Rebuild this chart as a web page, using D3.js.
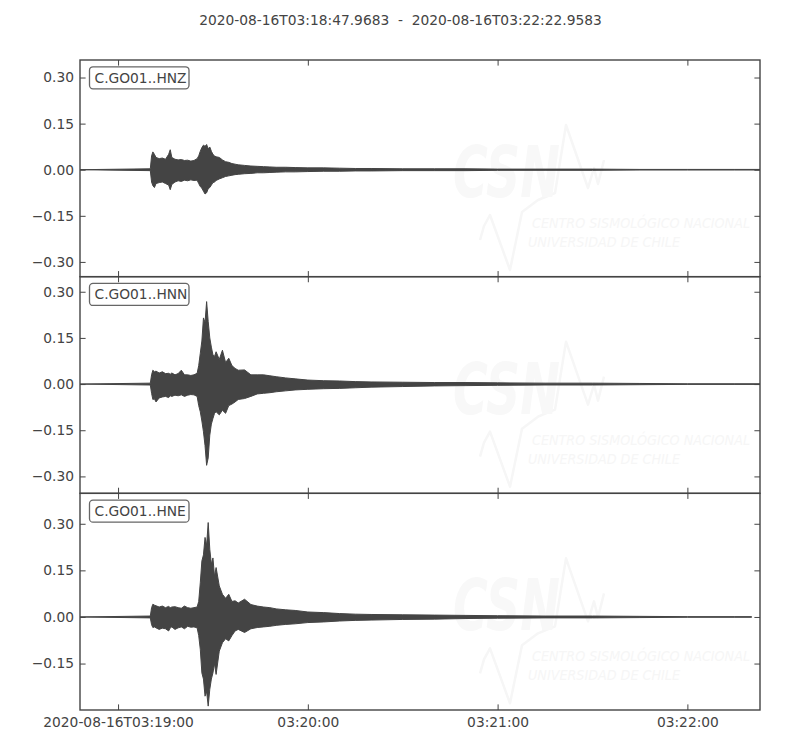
<!DOCTYPE html>
<html>
<head>
<meta charset="utf-8">
<script src="https://cdn.jsdelivr.net/npm/d3@7"></script>
<style>
  body { margin: 0; background: #fff; }
  svg { display: block; font-family: "DejaVu Sans", sans-serif; }
</style>
</head>
<body>
<div id="chart"></div>
<script>
// --- Data (amplitude envelopes, seconds after 03:19:00) ---
const traceIds = ["C.GO01..HNZ", "C.GO01..HNN", "C.GO01..HNE"];
const startTime = "2020-08-16T03:18:47.9683";
const endTime = "2020-08-16T03:22:22.9583";
const refTime = "2020-08-16T03:19:00";
const yLimits = [[-0.348, 0.357], [-0.355, 0.349], [-0.2995, 0.398]];
const yTickValues = [-0.30, -0.15, 0.00, 0.15, 0.30];
const traceEnds = [202.96, 202.96, 200.3];

const secs = [-12.04, 10.2, 10.6, 11, 11.5, 12, 13, 14, 15, 16, 16.5, 17, 18, 19, 20, 21, 22, 23, 24, 25,
  25.5, 26, 26.5, 27, 27.5, 28, 28.5, 29, 29.5, 30, 30.5, 31, 32, 33, 34, 35, 36, 37, 38, 40,
  42, 44, 46, 48, 50, 53, 56, 60, 65, 70, 75, 80, 90, 100, 110, 120, 135, 150, 165, 180, 195];

const upperZ = [0, 0.003, 0.045, 0.058, 0.05, 0.04, 0.036, 0.038, 0.034, 0.05, 0.065, 0.04, 0.034, 0.032, 0.033, 0.03, 0.031, 0.028, 0.03, 0.036,
  0.045, 0.06, 0.072, 0.08, 0.076, 0.082, 0.068, 0.074, 0.06, 0.05, 0.045, 0.042, 0.04, 0.032, 0.026, 0.024, 0.02, 0.018, 0.016, 0.014,
  0.012, 0.011, 0.01, 0.009, 0.008, 0.008, 0.007, 0.006, 0.006, 0.005, 0.004, 0.004, 0.003, 0.003, 0.003, 0.002, 0.002, 0.002, 0.001, 0.001, 0.001];
const lowerZ = [0, -0.003, -0.04, -0.052, -0.058, -0.045, -0.042, -0.04, -0.045, -0.05, -0.065, -0.048, -0.04, -0.036, -0.038, -0.034, -0.036, -0.033, -0.035, -0.034,
  -0.045, -0.055, -0.06, -0.07, -0.079, -0.075, -0.062, -0.058, -0.05, -0.042, -0.04, -0.035, -0.03, -0.026, -0.022, -0.02, -0.018, -0.016, -0.015, -0.013,
  -0.012, -0.01, -0.01, -0.009, -0.008, -0.007, -0.007, -0.006, -0.005, -0.005, -0.004, -0.004, -0.003, -0.003, -0.003, -0.002, -0.002, -0.002, -0.001, -0.001, -0.001];

const upperN = [0, 0.003, 0.03, 0.045, 0.04, 0.042, 0.036, 0.04, 0.034, 0.035, 0.032, 0.036, 0.03, 0.034, 0.045, 0.03, 0.03, 0.028, 0.03, 0.035,
  0.06, 0.1, 0.14, 0.215, 0.2, 0.268, 0.203, 0.15, 0.12, 0.095, 0.09, 0.105, 0.08, 0.11, 0.07, 0.084, 0.06, 0.051, 0.045, 0.046,
  0.03, 0.03, 0.03, 0.027, 0.024, 0.02, 0.017, 0.013, 0.011, 0.01, 0.008, 0.007, 0.006, 0.005, 0.005, 0.004, 0.003, 0.003, 0.002, 0.001, 0.001];
const lowerN = [0, -0.003, -0.03, -0.05, -0.048, -0.058, -0.045, -0.042, -0.04, -0.044, -0.038, -0.04, -0.036, -0.038, -0.035, -0.04, -0.036, -0.034, -0.035, -0.04,
  -0.07, -0.09, -0.12, -0.155, -0.2, -0.264, -0.24, -0.166, -0.13, -0.112, -0.095, -0.09, -0.1, -0.085, -0.095, -0.07, -0.065, -0.058, -0.05, -0.047,
  -0.04, -0.032, -0.03, -0.028, -0.025, -0.022, -0.019, -0.017, -0.015, -0.014, -0.012, -0.01, -0.008, -0.006, -0.005, -0.004, -0.003, -0.003, -0.002, -0.001, -0.001];

const upperE = [0, 0.003, 0.03, 0.041, 0.038, 0.036, 0.032, 0.035, 0.03, 0.034, 0.03, 0.032, 0.033, 0.03, 0.028, 0.035, 0.03, 0.028, 0.03, 0.032,
  0.05, 0.11, 0.18, 0.2, 0.256, 0.23, 0.304, 0.218, 0.17, 0.19, 0.13, 0.159, 0.1, 0.073, 0.06, 0.073, 0.05, 0.052, 0.045, 0.057,
  0.04, 0.035, 0.032, 0.03, 0.026, 0.023, 0.021, 0.016, 0.014, 0.011, 0.009, 0.008, 0.007, 0.006, 0.005, 0.004, 0.003, 0.003, 0.002, 0.001, 0.001];
const lowerE = [0, -0.003, -0.025, -0.034, -0.032, -0.035, -0.04, -0.036, -0.038, -0.045, -0.035, -0.032, -0.04, -0.035, -0.032, -0.038, -0.03, -0.033, -0.032, -0.035,
  -0.06, -0.104, -0.18, -0.2, -0.255, -0.24, -0.287, -0.233, -0.2, -0.18, -0.15, -0.185, -0.11, -0.083, -0.07, -0.077, -0.06, -0.045, -0.04, -0.05,
  -0.038, -0.034, -0.032, -0.03, -0.027, -0.024, -0.022, -0.018, -0.016, -0.013, -0.011, -0.01, -0.008, -0.007, -0.005, -0.004, -0.003, -0.003, -0.002, -0.001, -0.001];

const uppers = [upperZ, upperN, upperE];
const lowers = [lowerZ, lowerN, lowerE];

// --- Layout ---
const width = 800, height = 750;
const plotLeft = 80, plotRight = 760, plotTop = 60, plotBottom = 710;
const panelH = (plotBottom - plotTop) / traceIds.length;
const ink = "#444";
const fontSize = 13.8;
const tickLen = 5.6;

const parse = d3.utcParse("%Y-%m-%dT%H:%M:%S.%f");
const t0 = parse(startTime + "00");
const t1 = parse(endTime + "00");
const tRef = d3.utcParse("%Y-%m-%dT%H:%M:%S")(refTime);

const x = d3.scaleUtc().domain([t0, t1]).range([plotLeft, plotRight]);
const atSec = (s) => new Date(tRef.getTime() + s * 1000);
const xTicks = x.ticks(d3.utcMinute.every(1));
const fmtFirst = d3.utcFormat("%Y-%m-%dT%H:%M:%S");
const fmtRest = d3.utcFormat("%H:%M:%S");

const svg = d3.select("#chart").append("svg")
  .attr("width", width)
  .attr("height", height)
  .attr("viewBox", [0, 0, width, height]);

// title
svg.append("text")
  .attr("x", 400.5)
  .attr("y", 25)
  .attr("text-anchor", "middle")
  .attr("fill", ink)
  .style("font-size", fontSize + "px")
  .style("white-space", "pre")
  .attr("xml:space", "preserve")
  .text(`${startTime}  -  ${endTime}`);

const area = d3.area()
  .x((d) => x(atSec(d.t)))
  .y0((d) => d.y(d.lo))
  .y1((d) => d.y(d.hi));

traceIds.forEach((id, i) => {
  const y0 = plotTop + i * panelH;
  const y1 = y0 + panelH;
  const y = d3.scaleLinear().domain(yLimits[i]).range([y1, y0]);
  const isLast = i === traceIds.length - 1;
  const yTicks = yTickValues.filter((v) => v >= yLimits[i][0] && v <= yLimits[i][1]);

  const clipId = "clip" + i;
  svg.append("clipPath").attr("id", clipId)
    .append("rect").attr("x", plotLeft).attr("y", y0).attr("width", plotRight - plotLeft).attr("height", panelH);

  // faint CSN watermark (sits well inside the panel)
  const wm = svg.append("g").attr("transform", `translate(0,${y0})`).attr("pointer-events", "none");
  wm.append("polyline")
    .attr("points", "480,180 484,166 490,155 510,210 522,152 538,140 555,133 566,65 588,128 594,108 598,124 604,100")
    .attr("fill", "none")
    .attr("stroke", "#f6f6f6")
    .attr("stroke-width", 2.5)
    .attr("stroke-linejoin", "round");
  wm.append("text")
    .attr("x", 453).attr("y", 137)
    .attr("textLength", 107).attr("lengthAdjust", "spacingAndGlyphs")
    .style("font-size", "71px").style("font-style", "italic").style("font-weight", "bold")
    .attr("fill", "#f8f8f8")
    .text("CSN");
  wm.append("text")
    .attr("x", 532).attr("y", 168)
    .attr("textLength", 218).attr("lengthAdjust", "spacingAndGlyphs")
    .style("font-size", "14.5px").style("font-style", "italic")
    .attr("fill", "#f6f6f6")
    .text("CENTRO SISMOLÓGICO NACIONAL");
  wm.append("text")
    .attr("x", 528).attr("y", 187)
    .attr("textLength", 152).attr("lengthAdjust", "spacingAndGlyphs")
    .style("font-size", "14.5px").style("font-style", "italic")
    .attr("fill", "#f6f6f6")
    .text("UNIVERSIDAD DE CHILE");

  const g = svg.append("g").attr("clip-path", `url(#${clipId})`);

  // waveform envelope
  const pts = secs.map((s, j) => ({ t: s, hi: uppers[i][j], lo: lowers[i][j], y }));
  const last = pts[pts.length - 1];
  pts.push({ t: traceEnds[i], hi: last.hi, lo: last.lo, y });
  g.append("path")
    .datum(pts)
    .attr("d", area)
    .attr("fill", ink)
    .attr("stroke", ink)
    .attr("stroke-width", 1)
    .attr("stroke-linejoin", "round");

  // axes (ticks pointing inward on all four sides)
  const yFmt = d3.format(".2f");
  const ax = svg.append("g");

  const leftAxis = ax.append("g").attr("transform", `translate(${plotLeft},0)`)
    .call(d3.axisLeft(y).tickValues(yTicks)
      .tickFormat(yFmt).tickSizeInner(-tickLen).tickSizeOuter(0).tickPadding(6));
  const rightAxis = ax.append("g").attr("transform", `translate(${plotRight},0)`)
    .call(d3.axisRight(y).tickValues(yTicks)
      .tickFormat("").tickSizeInner(-tickLen).tickSizeOuter(0));
  const topAxis = ax.append("g").attr("transform", `translate(0,${y0})`)
    .call(d3.axisTop(x).tickValues(xTicks).tickFormat("").tickSizeInner(-tickLen).tickSizeOuter(0));
  const bottomAxis = ax.append("g").attr("transform", `translate(0,${y1})`)
    .call(d3.axisBottom(x).tickValues(xTicks)
      .tickFormat(isLast ? (d, k) => (k === 0 ? fmtFirst(d) : fmtRest(d)) : "")
      .tickSizeInner(-tickLen).tickSizeOuter(0).tickPadding(7));

  [leftAxis, rightAxis, topAxis, bottomAxis].forEach((a) => {
    a.select(".domain").remove();
    a.selectAll(".tick line").attr("stroke", ink).attr("stroke-width", 1);
    a.selectAll(".tick text").attr("fill", ink).style("font-size", fontSize + "px")
      .style("font-family", "DejaVu Sans, sans-serif");
  });

  // frame
  svg.append("rect")
    .attr("x", plotLeft).attr("y", y0)
    .attr("width", plotRight - plotLeft).attr("height", panelH)
    .attr("fill", "none")
    .attr("stroke", ink)
    .attr("stroke-width", 1.4);

  // trace id label box
  const lab = svg.append("g").attr("transform", `translate(89.5,${y0 + 6.8})`);
  lab.append("rect")
    .attr("width", 99.5).attr("height", 22)
    .attr("rx", 3.5)
    .attr("fill", "#fff")
    .attr("stroke", "#666")
    .attr("stroke-width", 1.3);
  lab.append("text")
    .attr("x", 5).attr("y", 16)
    .attr("fill", ink)
    .style("font-size", fontSize + "px")
    .text(id);
});
</script>
</body>
</html>
